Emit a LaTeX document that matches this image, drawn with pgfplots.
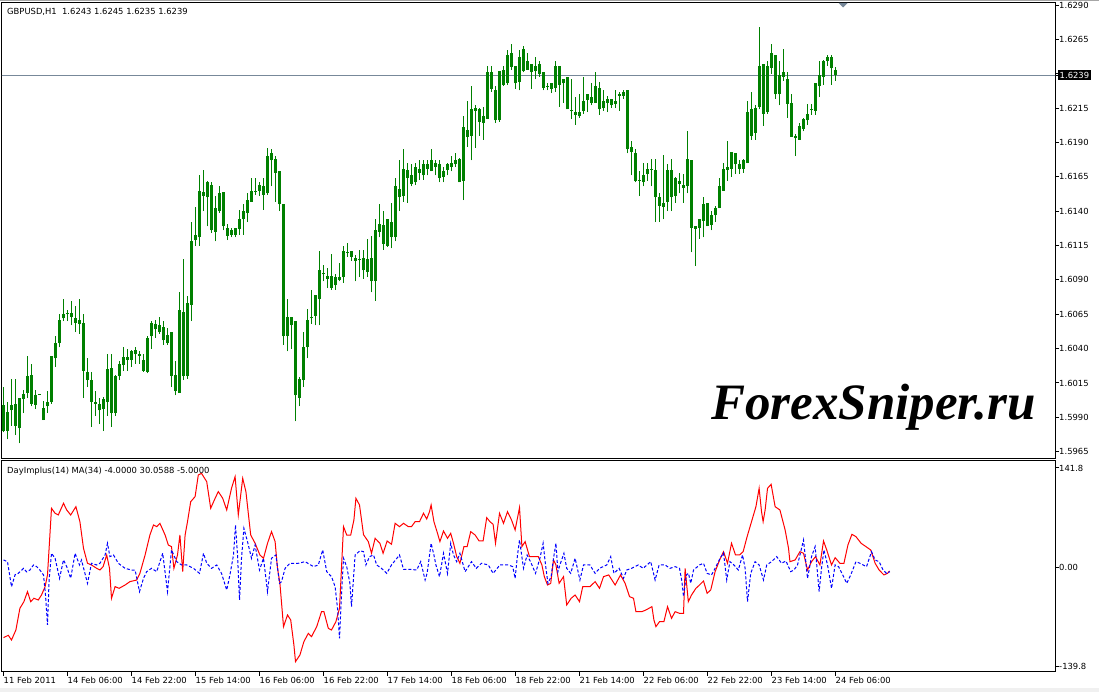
\documentclass[border=0pt]{standalone}
\usepackage{pgfplots}
\usepackage{pgfplotstable}
\pgfplotsset{compat=1.18}
\usepackage{fontspec}
\setmainfont{DejaVu Sans}
\newfontfamily\wmfont{Liberation Serif}
\definecolor{candle}{RGB}{0,128,0}
\definecolor{bidline}{RGB}{119,136,153}
\definecolor{mtred}{RGB}{255,0,0}
\definecolor{mtblue}{RGB}{0,0,255}
\newcommand{\lblfont}{\fontsize{8.4}{10}\selectfont}

\pgfplotstableread{
i hi lo bt bb
0 1.6012 1.5979 1.5999 1.5980
1 1.6001 1.5974 1.5994 1.5980
2 1.6018 1.5984 1.5999 1.5995
3 1.6018 1.5977 1.6000 1.5984
4 1.6004 1.5971 1.6004 1.5982
5 1.6010 1.5993 1.6007 1.6003
6 1.6035 1.6004 1.6020 1.6008
7 1.6029 1.5998 1.6021 1.6000
8 1.6010 1.5996 1.6006 1.5999
9 1.60071 1.60064 1.60071 1.60064
10 1.6002 1.5988 1.5997 1.5988
11 1.6009 1.5993 1.6001 1.5998
12 1.6035 1.6000 1.6035 1.6001
13 1.6049 1.6027 1.6044 1.6033
14 1.6065 1.6041 1.6061 1.6044
15 1.6076 1.6060 1.6065 1.6062
16 1.6068 1.6060 1.6066 1.6065
17 1.6075 1.6057 1.6066 1.6063
18 1.6071 1.6052 1.6062 1.6059
19 1.6076 1.6051 1.6061 1.6058
20 1.6065 1.6004 1.6059 1.6024
21 1.6033 1.6012 1.6023 1.6017
22 1.6023 1.5983 1.6017 1.6001
23 1.6009 1.5991 1.6001 1.6000
24 1.6004 1.5985 1.6000 1.5995
25 1.6005 1.5980 1.6003 1.5996
26 1.6036 1.5991 1.6025 1.6001
27 1.6036 1.5983 1.6026 1.5993
28 1.6021 1.5991 1.6020 1.5993
29 1.6031 1.6017 1.6029 1.6020
30 1.6041 1.6024 1.6034 1.6028
31 1.6040 1.6024 1.6034 1.6032
32 1.6039 1.6027 1.6038 1.6032
33 1.6041 1.6029 1.6039 1.6036
34 1.6038 1.6029 1.6036 1.6035
35 1.6036 1.6023 1.6032 1.6024
36 1.6049 1.6022 1.6048 1.6023
37 1.6060 1.6040 1.6059 1.6049
38 1.6061 1.6048 1.6058 1.6054
39 1.6063 1.6051 1.6057 1.6052
40 1.6060 1.6043 1.6056 1.6046
41 1.6055 1.6043 1.6050 1.6044
42 1.6052 1.6012 1.6052 1.6020
43 1.6031 1.6006 1.6021 1.6009
44 1.6081 1.6008 1.6068 1.6008
45 1.6105 1.6017 1.6067 1.6020
46 1.6078 1.6018 1.6073 1.6020
47 1.6132 1.6060 1.6118 1.6072
48 1.6143 1.6115 1.6123 1.6119
49 1.6166 1.6115 1.6155 1.6121
50 1.6170 1.6140 1.6154 1.6151
51 1.6162 1.6129 1.6161 1.6150
52 1.6161 1.6124 1.6159 1.6126
53 1.6151 1.6118 1.6142 1.6125
54 1.6158 1.6139 1.6153 1.6140
55 1.6154 1.6126 1.6154 1.6129
56 1.6131 1.6119 1.6128 1.6122
57 1.6128 1.6121 1.6126 1.6123
58 1.6128 1.6121 1.6128 1.6123
59 1.6141 1.6123 1.6134 1.6127
60 1.6145 1.6123 1.6140 1.6134
61 1.6153 1.6132 1.6148 1.6139
62 1.6164 1.6147 1.6155 1.6147
63 1.6164 1.6152 1.6155 1.6154
64 1.6161 1.6151 1.6159 1.6155
65 1.6164 1.6141 1.6158 1.6152
66 1.6186 1.6152 1.6180 1.6153
67 1.6185 1.6158 1.6182 1.6177
68 1.6180 1.6147 1.6178 1.6168
69 1.6169 1.6140 1.6169 1.6145
70 1.6145 1.6043 1.6145 1.6049
71 1.6076 1.6038 1.6063 1.6049
72 1.6063 1.6040 1.6063 1.6057
73 1.6060 1.5987 1.6060 1.6006
74 1.6019 1.5998 1.6018 1.6004
75 1.6052 1.6012 1.6041 1.6017
76 1.6069 1.6033 1.6061 1.6041
77 1.6083 1.6058 1.6063 1.6062
78 1.6079 1.6057 1.6079 1.6064
79 1.6111 1.6057 1.6097 1.6076
80 1.6101 1.6089 1.6095 1.6094
81 1.6099 1.6084 1.6093 1.6091
82 1.6109 1.6083 1.6093 1.6084
83 1.6094 1.6083 1.6092 1.6086
84 1.6102 1.6089 1.6092 1.6090
85 1.6115 1.6088 1.6111 1.6092
86 1.6117 1.6107 1.61103 1.61096
87 1.6111 1.6104 1.6111 1.6107
88 1.6108 1.6089 1.6106 1.6104
89 1.6112 1.6092 1.61052 1.61045
90 1.6112 1.6091 1.6106 1.6097
91 1.6120 1.6092 1.6105 1.6096
92 1.6122 1.6081 1.6106 1.6089
93 1.6134 1.6075 1.6126 1.6089
94 1.6145 1.6121 1.6131 1.6125
95 1.6140 1.6112 1.6130 1.6116
96 1.6134 1.6114 1.6134 1.6115
97 1.6146 1.6113 1.6132 1.6121
98 1.6164 1.6118 1.6158 1.6121
99 1.6177 1.6140 1.6156 1.6150
100 1.6185 1.6147 1.6171 1.6151
101 1.6175 1.6146 1.6170 1.6164
102 1.6174 1.6158 1.6166 1.6160
103 1.6175 1.6159 1.6172 1.6161
104 1.6177 1.6163 1.6171 1.6168
105 1.6177 1.6163 1.6174 1.6166
106 1.6177 1.6166 1.6174 1.6171
107 1.6185 1.6169 1.6177 1.6169
108 1.6177 1.6166 1.6175 1.6172
109 1.6177 1.6161 1.6174 1.6164
110 1.6172 1.6161 1.6169 1.6165
111 1.6175 1.6166 1.6174 1.6170
112 1.6180 1.6169 1.6175 1.6172
113 1.6182 1.6172 1.6177 1.6174
114 1.6179 1.6161 1.6178 1.6161
115 1.6209 1.6148 1.6201 1.6162
116 1.6220 1.6187 1.6199 1.6194
117 1.6231 1.6177 1.6214 1.6195
118 1.6217 1.6186 1.6215 1.6213
119 1.6215 1.6195 1.6214 1.6205
120 1.6216 1.6192 1.6209 1.6204
121 1.6246 1.6207 1.6241 1.6207
122 1.6246 1.6227 1.6241 1.6229
123 1.6231 1.6204 1.6228 1.6206
124 1.6242 1.6205 1.6242 1.6206
125 1.6246 1.6231 1.6243 1.6232
126 1.6257 1.6232 1.6254 1.6233
127 1.6262 1.6243 1.6255 1.6245
128 1.6246 1.6229 1.6246 1.6233
129 1.6257 1.6228 1.6252 1.6234
130 1.6260 1.6241 1.6258 1.6242
131 1.6255 1.6243 1.6249 1.6243
132 1.6247 1.6229 1.6247 1.6241
133 1.6252 1.6236 1.6246 1.6242
134 1.6249 1.6238 1.6247 1.6240
135 1.6241 1.6228 1.6241 1.6230
136 1.6233 1.6228 1.62311 1.62304
137 1.6233 1.6226 1.6233 1.6229
138 1.6249 1.6227 1.6246 1.6230
139 1.6246 1.6216 1.6246 1.6232
140 1.6236 1.6219 1.6236 1.6233
141 1.6238 1.6214 1.6238 1.6214
142 1.6236 1.6207 1.62136 1.62129
143 1.6223 1.6203 1.6212 1.6210
144 1.6225 1.6208 1.6212 1.6209
145 1.6238 1.6211 1.6220 1.6213
146 1.6225 1.6212 1.6225 1.6221
147 1.6233 1.6217 1.6223 1.6219
148 1.6241 1.6219 1.6231 1.6219
149 1.6234 1.6210 1.6230 1.6214
150 1.6228 1.6213 1.6220 1.6215
151 1.6224 1.6212 1.6222 1.6219
152 1.6222 1.6215 1.6222 1.6217
153 1.6228 1.6215 1.6220 1.6218
154 1.6227 1.6213 1.6225 1.6224
155 1.6228 1.6222 1.6227 1.6224
156 1.6228 1.6182 1.6228 1.6185
157 1.6191 1.6166 1.6187 1.6183
158 1.6185 1.6161 1.6182 1.6162
159 1.6169 1.6151 1.6163 1.6162
160 1.6175 1.6158 1.6166 1.6161
161 1.6175 1.6162 1.6171 1.6167
162 1.6178 1.6158 1.6171 1.6170
163 1.6178 1.6132 1.6170 1.6150
164 1.6153 1.6132 1.6150 1.6144
165 1.6181 1.6134 1.6146 1.6143
166 1.6174 1.6140 1.6170 1.6147
167 1.6178 1.6140 1.6170 1.6150
168 1.6165 1.6146 1.6164 1.6151
169 1.6168 1.6153 1.6162 1.6160
170 1.6167 1.6146 1.6159 1.6157
171 1.6198 1.6153 1.6178 1.6158
172 1.6177 1.6110 1.6177 1.6128
173 1.6129 1.6100 1.6129 1.6127
174 1.6134 1.6120 1.6134 1.6128
175 1.6150 1.6121 1.6145 1.6133
176 1.6146 1.6129 1.6146 1.6129
177 1.6140 1.6126 1.6137 1.6130
178 1.6144 1.6132 1.6142 1.6137
179 1.6164 1.6142 1.6158 1.6142
180 1.6175 1.6155 1.6171 1.6155
181 1.6191 1.6162 1.6172 1.6170
182 1.6183 1.6165 1.6183 1.6171
183 1.6182 1.6167 1.6182 1.6174
184 1.6177 1.6167 1.6174 1.6171
185 1.6178 1.6168 1.6177 1.6171
186 1.6220 1.6175 1.6212 1.6175
187 1.6227 1.6192 1.6214 1.6195
188 1.6217 1.6192 1.6215 1.6197
189 1.6274 1.6214 1.6246 1.6216
190 1.6247 1.6202 1.6247 1.6211
191 1.6249 1.6211 1.6246 1.6212
192 1.6262 1.6240 1.6255 1.6244
193 1.6254 1.6222 1.6254 1.6225
194 1.6249 1.6217 1.6239 1.6225
195 1.6258 1.6235 1.6241 1.6238
196 1.6241 1.6208 1.6236 1.6218
197 1.6225 1.6194 1.6219 1.6194
198 1.6196 1.6180 1.6195 1.6193
199 1.6204 1.6192 1.6202 1.6192
200 1.6208 1.6198 1.6207 1.6200
201 1.6218 1.6203 1.6211 1.6206
202 1.6218 1.6210 1.62143 1.62136
203 1.6233 1.6210 1.6233 1.6213
204 1.6249 1.6223 1.6239 1.6231
205 1.6250 1.6232 1.6249 1.6238
206 1.6254 1.6246 1.6252 1.6249
207 1.6254 1.6232 1.6252 1.6244
208 1.6245 1.6235 1.6243 1.6239
}\candles

\pgfplotstableread{
x v
0 -99.5
1.2 -96.1
2.0 -102.8
3.1 -88.6
4.1 -57.7
5.1 -48.3
6.0 -34.0
6.8 -48.3
7.6 -43.5
8.7 -45.9
9.5 -38.8
10.4 -26.9
11.0 -10.3
11.6 46.5
12.0 84.5
12.9 77.4
13.7 75.0
15.0 91.6
15.8 82.1
16.8 75.0
18.1 86.8
19.1 65.5
20.0 27.6
21.0 6.3
22.0 3.9
23.3 -0.9
24.1 -3.2
24.9 1.5
25.8 18.1
26.5 -0.9
27.0 -43.5
27.9 -26.9
28.9 -29.3
30.4 -24.6
31.6 -19.8
33.3 -17.5
34.1 -8.0
35.4 18.1
36.6 46.5
37.5 60.8
38.3 58.4
39.1 63.1
40.4 46.5
41.2 32.3
42.0 30.0
42.6 -0.9
43.5 18.1
44.1 46.5
44.8 -5.6
45.4 46.5
46.0 65.5
46.8 93.9
47.9 101.1
48.7 131.9
49.5 134.2
50.8 122.4
51.8 84.5
52.9 98.7
53.7 108.2
54.8 98.7
55.8 82.1
57.0 112.9
57.9 129.5
58.7 75.0
59.8 127.1
60.6 108.2
61.8 46.5
62.9 34.7
64.1 18.1
65.0 13.4
66.0 34.7
67.0 51.3
67.9 37.1
68.5 -0.9
69.1 -22.2
70.0 -83.8
71.0 -67.2
71.8 -74.3
72.6 -109.9
73.0 -133.6
74.1 -124.1
75.1 -105.1
76.2 -93.3
77.0 -98.0
78.3 -83.8
79.5 -62.5
80.1 -62.5
81.2 -86.2
82.0 -88.6
83.1 -76.7
84.0 -57.7
85.0 58.4
85.8 46.5
86.8 46.5
87.6 67.9
88.1 98.7
89.0 89.2
90.0 47.0
91.2 37.1
92.0 20.5
92.9 41.8
94.1 34.7
94.9 20.5
95.9 38.0
97.0 33.3
97.9 63.1
99.0 58.4
100.0 63.1
101.2 58.4
102.0 58.4
102.9 65.5
104.0 65.5
105.0 77.4
105.8 69.3
106.5 79.7
106.9 89.2
107.6 65.5
108.5 48.9
109.1 37.1
110.0 52.2
111.0 41.8
111.8 48.9
112.5 34.7
113.3 15.7
114.1 6.3
115.1 30.0
115.9 30.0
116.8 51.3
117.9 46.5
118.9 38.0
119.9 38.0
120.8 71.2
121.6 65.5
122.4 61.7
123.0 34.7
124.0 77.4
125.0 63.1
126.0 79.7
127.0 67.9
127.9 53.7
129.0 85.4
129.6 30.0
130.4 37.1
131.5 15.7
132.5 15.7
133.7 15.7
134.6 3.9
135.2 -12.7
136.0 -24.6
136.8 -22.2
137.5 11.0
138.1 3.9
138.9 -22.2
140.0 -12.7
140.8 -53.0
141.9 -43.5
142.9 -38.8
144.0 -48.3
144.8 -27.0
145.8 -27.0
146.6 -27.0
147.9 -19.8
149.0 -29.3
150.0 -12.7
151.3 -10.3
152.9 -24.6
154.25 -10.3
155.4 -22.2
156.5 -41.1
157.5 -43.5
158.1 -62.5
159.6 -62.5
160.6 -60.1
162.1 -55.4
162.6 -74.3
163.1 -83.8
164.0 -76.7
165.1 -76.7
166.0 -55.4
167.0 -72.0
167.9 -62.5
169.0 -64.9
170.0 -64.9
170.4 -0.9
171.2 -48.3
172.0 -38.8
173.1 -29.3
174.0 -24.6
175.0 -18.9
175.9 -36.4
176.8 -31.7
177.9 -5.6
179.1 12.0
180.0 22.8
181.0 6.3
182.0 34.7
183.0 18.1
184.0 18.1
184.9 22.8
185.9 44.2
187.0 65.5
188.1 86.8
188.9 112.9
189.5 79.7
189.9 65.5
190.4 82.1
191.0 112.9
191.9 118.6
192.9 86.8
194.1 82.1
195.4 53.7
196.25 27.6
196.6 8.6
197.9 11.0
199.1 22.8
200.0 20.5
201.0 -3.3
202.0 8.6
203.0 15.7
204.1 3.9
205.0 38.0
205.8 25.2
207.0 3.9
207.9 14.3
209.1 6.3
210.1 6.3
211.1 32.3
212.1 47.5
213.1 44.2
214.4 34.7
215.6 30.0
216.8 25.2
217.9 6.3
218.9 -3.3
220.1 -10.3
221.0 -8.0
221.5 -4.6
}\redline

\pgfplotstableread{
x v
0 11
1.0 8.6
2.0 -27
2.9 -10
3.7 -8
5.0 -1
5.8 -6
6.6 -3.3
7.5 3.9
8.3 1.5
9.1 -3.3
10.0 -10.3
10.5 -38.8
11.0 -81.4
11.4 -17.5
12.0 20.5
12.9 13.4
14.0 -15.1
15.0 11
15.8 1.5
16.8 -15.1
17.9 20.5
19.0 3.9
19.5 11
21.0 -22.2
22.0 6.3
23.3 3.9
24.1 6.3
25.4 18.1
26.0 34.7
26.6 15.8
27.5 18.1
28.7 6.3
30.4 -0.9
32.0 -3.3
32.9 -3.3
34.0 -34
35.0 -15.1
35.8 -5.6
37.0 -0.9
38.3 -5.6
39.8 20.5
41.0 -34
42.0 25.2
43.3 8.6
44.5 3.9
45.8 3.9
47.5 -0.9
49.0 -8
50.0 20.5
50.8 6.3
52.0 -0.9
53.3 3.9
54.5 -8
55.8 -31.7
56.6 -10.3
57.5 18.1
58.0 60.8
58.5 18.1
59.0 -45.9
59.5 13.4
60.1 56.0
61.0 37.1
62.0 13.4
62.9 32.3
64.0 -3.3
65.0 13.4
66.0 -34
67.0 13.4
68.1 18.1
69.0 -22.2
69.5 -19.8
70.4 -0.9
71.6 6.3
73.7 6.3
75.4 8.6
77.5 1.5
78.7 3.9
79.8 25.2
80.8 -5.6
82.0 -12.7
82.9 -27
83.5 -57.7
84.0 -100.4
84.5 -38.8
85.0 13.4
85.8 1.5
86.6 -22.2
87.0 -55.4
87.9 18.1
89.1 24
90.0 22.8
90.6 3.9
91.5 15.7
92.5 18.1
93.3 3.9
94.5 -0.9
95.8 -8
97.0 3.9
99.0 18.1
100.0 -2.3
101.6 -2.3
103.3 -3.3
104.3 8.6
105.4 -17.5
105.9 -8
106.9 34.7
107.6 18.1
108.1 3.9
109.0 -12.7
110.0 20.5
111.0 -8
111.8 34.7
112.5 18.1
113.3 8.6
114.1 20.5
115.4 -5.6
117.0 8.6
118.2 -0.9
119.5 6.3
121.2 3.9
122.4 -8
124.1 3.9
126.2 3.9
127.3 1.5
127.9 -15.1
128.5 18.1
129.0 39.4
130.0 -0.9
130.9 18.1
131.75 8.6
133.0 -8
134.1 13.4
134.9 34.7
135.5 3.9
136.1 -22.2
136.9 -12.7
137.5 13.4
138.1 34.7
138.6 -5.6
139.1 3.9
140.1 20.5
140.8 -0.9
141.8 -8
142.9 13.4
144.1 -17.5
145.0 3.9
146.6 3.9
147.9 -8
149.0 -0.9
150.8 3.9
151.8 15.7
152.6 -8
153.9 -0.9
155.0 -15.1
155.8 -3.3
157.0 -0.9
158.7 3.9
159.9 -0.9
161.8 8.6
162.9 -17.5
163.9 3.9
165.4 3.9
166.6 -0.9
167.9 1.5
169.0 -0.9
169.6 -19.8
170.0 -41.1
170.7 -10.3
171.25 -8
171.8 -22.2
172.5 -3.3
174.0 3.9
175.0 6.3
175.9 -8
177.0 -10.3
177.9 -0.9
179.1 13
180.0 21
180.8 -17.5
181.6 8.6
182.6 3.9
183.7 -3.3
184.75 18.1
185.4 -0.9
186.0 -48.3
186.8 -8
187.9 8.6
188.9 3.9
190.0 -17.5
190.8 3.9
192.0 8.6
193.3 15.7
194.5 6.3
195.6 9.6
196.8 -5.6
197.6 -3.3
198.5 3.9
199.1 18.1
200.0 39.4
201.0 -15.1
202.0 15.7
202.9 30
203.9 -34
204.5 -0.9
205.1 25.2
206.0 3.9
207.0 -29.3
207.9 3.9
208.75 1.5
209.8 -10.3
210.8 -22.2
211.8 -10.3
213.1 8.6
214.1 6.3
215.75 1.5
217.0 22.8
217.9 10.9
218.9 8.6
219.9 -3.3
220.75 -8
221.6 -5.6
}\blueline

\begin{document}
\begin{tikzpicture}[x=1pt,y=1pt,font=\lblfont]
\useasboundingbox (0,0) rectangle (1099,692);
\fill[white] (0,0) rectangle (1099,692);
\fill[black!6] (0,0) rectangle (1099,4);
\draw[black!35, line width=1pt] (0,691.5) -- (1099,691.5);

% ---------------- price panel ----------------
\begin{axis}[
  at={(2pt,233pt)}, anchor=south west,
  scale only axis, width=1053pt, height=456pt,
  xmin=-0.375, xmax=262.875,
  ymin=1.59597, ymax=1.62915,
  axis line style={line width=1pt, black},
  xtick=\empty,
  ytick pos=right, yticklabel pos=right,
  tick align=outside, major tick length=4pt,
  every tick/.style={black, line width=1pt},
  ytick={1.5965,1.5990,1.6015,1.6040,1.6065,1.6090,1.6115,1.6140,1.6165,1.6190,1.6215,1.6240,1.6265,1.6290},
  yticklabels={1.5965,1.5990,1.6015,1.6040,1.6065,1.6090,1.6115,1.6140,1.6165,1.6190,1.6215,,1.6265,1.6290},
  yticklabel style={font=\lblfont, anchor=west, xshift=-1pt, inner sep=1pt},
  extra y ticks={1.6239},
  extra y tick labels={1.6239},
  extra y tick style={yticklabel style={fill=black, text=white, inner sep=1.5pt, font=\lblfont}},
  clip=true,
]
\addplot[bidline, line width=1pt, forget plot] coordinates {(-1,1.6239) (264,1.6239)};
\addplot[draw=none, forget plot, error bars/.cd, y dir=plus, y explicit, error mark=none,
  error bar style={draw=candle, line width=1pt, solid}]
  table[x=i, y=lo, y error plus expr=\thisrow{hi}-\thisrow{lo}] {\candles};
\addplot[draw=none, forget plot, error bars/.cd, y dir=plus, y explicit, error mark=none,
  error bar style={draw=candle, line width=3pt, solid}]
  table[x=i, y=bb, y error plus expr=\thisrow{bt}-\thisrow{bb}] {\candles};
\end{axis}

% ---------------- indicator panel ----------------
\begin{axis}[
  at={(2pt,20pt)}, anchor=south west,
  scale only axis, width=1053pt, height=211pt,
  xmin=-0.375, xmax=262.875,
  ymin=-148.3, ymax=151.75,
  axis line style={line width=1pt, black},
  every tick/.style={black, line width=1pt},
  tick align=outside, major tick length=4pt,
  xtick pos=bottom,
  xtick={0,16,32,48,64,80,96,112,128,144,160,176,192,208},
  xticklabels={11 Feb 2011,14 Feb 06:00,14 Feb 22:00,15 Feb 14:00,16 Feb 06:00,16 Feb 22:00,17 Feb 14:00,18 Feb 06:00,18 Feb 22:00,21 Feb 14:00,22 Feb 06:00,22 Feb 22:00,23 Feb 14:00,24 Feb 06:00},
  xticklabel style={font=\lblfont, anchor=north west, xshift=-1pt, inner sep=1pt},
  ytick pos=right, yticklabel pos=right,
  ytick={-139.8,0,141.8},
  yticklabels={-139.8,0.00,141.8},
  yticklabel style={font=\lblfont, anchor=west, xshift=-1pt, inner sep=1pt},
]
\addplot[mtred, line width=1pt, forget plot] table[x=x, y=v] {\redline};
\addplot[mtblue, line width=1pt, dash pattern=on 3pt off 2pt, forget plot] table[x=x, y=v] {\blueline};
\end{axis}

% texts and decorations
\node[anchor=west, inner sep=0] at (7,680.5) {GBPUSD,H1\ \ 1.6243 1.6245 1.6235 1.6239};
\node[anchor=west, inner sep=0] at (7,221) {DayImplus(14) MA(34) -4.0000 30.0588 -5.0000};
\fill[bidline] (838.5,689) -- (847.5,689) -- (843,684.5) -- cycle;
\node[anchor=base west, inner sep=0] at (711,272) {\wmfont\bfseries\itshape\fontsize{51}{54}\selectfont ForexSniper.ru};
\end{tikzpicture}
\end{document}
